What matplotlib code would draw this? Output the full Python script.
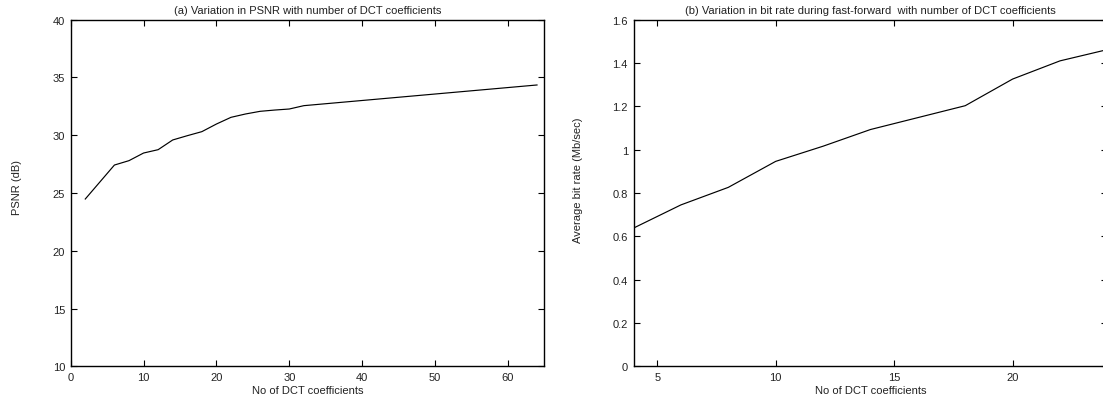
import matplotlib
matplotlib.use("Agg")
import matplotlib.pyplot as plt
from matplotlib.ticker import FormatStrFormatter, MultipleLocator

plt.rcParams['font.family'] = ['Liberation Sans', 'DejaVu Sans']
plt.rcParams['font.size'] = 8

# (a) PSNR vs number of DCT coefficients
psnr_coeffs = [2, 6, 8, 10, 12, 14, 16, 18, 20, 22, 24, 26, 28, 30, 32, 64]
psnr_db = [24.48, 27.42, 27.8, 28.46, 28.75, 29.59, 29.96, 30.31, 30.97,
           31.55, 31.84, 32.07, 32.18, 32.27, 32.56, 34.35]

# (b) bit rate vs number of DCT coefficients
rate_coeffs = [4, 6, 8, 10, 12, 14, 16, 18, 20, 22, 24]
rate_mbps = [0.638, 0.745, 0.826, 0.946, 1.016, 1.093, 1.148, 1.203, 1.326,
             1.41, 1.462]

titles = ["(a) Variation in PSNR with number of DCT coefficients",
          "(b) Variation in bit rate during fast-forward  with number of DCT coefficients"]
xlabels = ["No of DCT coefficients", "No of DCT coefficients"]
ylabels = ["PSNR (dB)", "Average bit rate (Mb/sec)"]

W, H = 1103, 402
fig = plt.figure(figsize=(W / 100, H / 100), dpi=100)

def pos(l, r, t, b):
    return [l / W, 1 - b / H, (r - l) / W, (b - t) / H]

ax1 = fig.add_axes(pos(70.7, 544.3, 20.7, 367.3))
ax2 = fig.add_axes(pos(633.5, 1107.4, 20.7, 367.3))

ax1.plot(psnr_coeffs, psnr_db, color='black', lw=0.85)
ax1.set_xlim(0, 65)
ax1.set_ylim(10, 40)
ax1.xaxis.set_major_locator(MultipleLocator(10))
ax1.yaxis.set_major_locator(MultipleLocator(5))

ax2.plot(rate_coeffs, rate_mbps, color='black', lw=0.85)
ax2.set_xlim(4, 24)
ax2.set_ylim(0, 1.6)
ax2.xaxis.set_major_locator(MultipleLocator(5))
ax2.yaxis.set_major_locator(MultipleLocator(0.2))
ax2.yaxis.set_major_formatter(FormatStrFormatter('%g'))

for ax, t, xl, yl, ylx, yly in [(ax1, titles[0], xlabels[0], ylabels[0], -0.113, 0.52),
                                 (ax2, titles[1], xlabels[1], ylabels[1], -0.117, 0.54)]:
    ax.set_title(t, fontsize=8, pad=5, color='#222222')
    ax.set_xlabel(xl, fontsize=8, color='#222222')
    ax.set_ylabel(yl, fontsize=8, color='#222222')
    ax.xaxis.set_label_coords(0.5, -0.068)
    ax.yaxis.set_label_coords(ylx, yly)
    ax.xaxis.label.set_va('center')
    ax.yaxis.label.set_va('center')
    ax.tick_params(direction='in', length=4.5, width=0.8, top=True, right=True,
                   labelsize=8, pad=4, colors='black', labelcolor='#222222')
    for s in ax.spines.values():
        s.set_linewidth(1.0)
        s.set_color('black')

fig.savefig('out.png', dpi=100)
